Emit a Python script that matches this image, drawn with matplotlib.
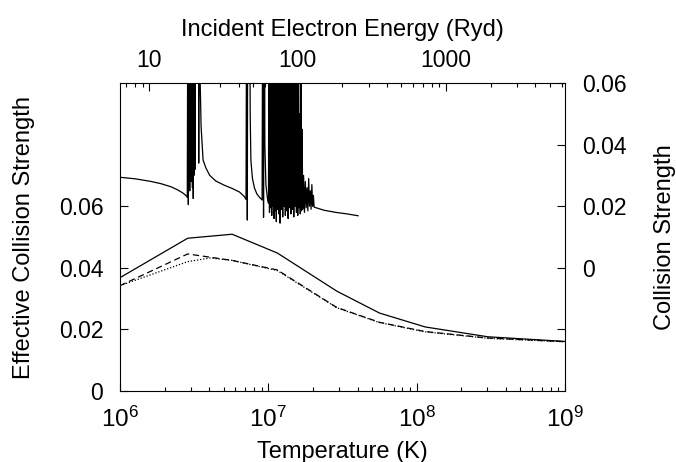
import matplotlib
matplotlib.use("Agg")
from matplotlib import pyplot as plt
from matplotlib.ticker import LogLocator, FixedLocator, FuncFormatter, NullFormatter

plt.rcParams['font.family'] = ['Liberation Sans', 'DejaVu Sans']
plt.rcParams['mathtext.fontset'] = 'custom'
plt.rcParams['mathtext.rm'] = 'Liberation Sans'
plt.rcParams['mathtext.it'] = 'Liberation Sans:italic'

# K per Rydberg, links the two x axes
RYD_K = 157890.0

# effective collision strengths vs temperature (left / bottom axes)
temps = [1e6, 2.86e6, 5.7e6, 1.15e7, 2.9e7, 5.62e7, 1.14e8, 3.02e8, 1e9]
ecs_solid = [0.0368, 0.0496, 0.0509, 0.0448, 0.0324, 0.0253, 0.0208, 0.0176, 0.0161]
ecs_dashed = [0.0342, 0.0445, 0.0424, 0.0393, 0.0271, 0.0223, 0.0193, 0.0172, 0.0160]
temps_dotted = [1e6, 2.86e6, 4.05e6, 5.7e6, 1.15e7, 2.9e7, 5.62e7, 1.14e8, 3.02e8, 1e9]
ecs_dotted = [0.0342, 0.0420, 0.0432, 0.0424, 0.0391, 0.0270, 0.0222, 0.0192, 0.0171, 0.0160]

# collision strength vs incident energy (right / top axes)
energy = [6.33, 8.0, 10.1, 12.0, 14.0, 15.5, 16.8, 17.6, 18.0,
          18.15, 18.3, 18.4, 18.5, 18.6, 18.7, 18.8, 18.9, 19.0, 19.1,
          19.2, 19.3, 19.4, 19.5, 19.6, 19.75, 19.85, 19.95, 20.05, 20.15,
          20.25, 20.35, 20.45, 20.6, 21.3, 21.5, 21.7, 22.0, 22.3, 23.0,
          24.0, 25.5, 28.0, 32.0, 36.0, 40.5, 43.5, 44.8,
          45.2, 45.7, 46.2, 47.2, 47.8, 48.3, 49.5, 51.0, 53.0, 55.0, 57.5,
          58.2, 58.8, 59.4, 60.0, 61.0, 62.5,
          63.5, 64.0, 64.5, 65.0, 65.6, 66.2, 66.8, 67.4, 68.0, 68.6,
          69.2, 69.8, 70.4, 71.0, 71.7, 72.4, 73.1, 73.8, 74.5, 75.2,
          76.0, 76.8, 77.6, 78.4, 79.2, 80.0, 80.8, 81.6, 82.5, 83.4,
          84.3, 85.2, 86.1, 87.0, 88.0, 89.0, 90.0, 91.0, 92.0, 93.0,
          94.0, 95.0, 96.0, 97.0, 98.0, 99.0, 100.0, 101.0, 102.0, 103.0,
          104.0, 105.0, 106.0, 107.0, 108.0, 109.5, 111.0, 112.5, 114.0, 115.5,
          117.0, 118.5, 120.0, 121.5, 123.0, 124.5, 126.0, 127.5, 129.0,
          150.0, 180.0, 215.0, 255.0]
omega = [0.0294, 0.0289, 0.0281, 0.0273, 0.0263, 0.0253, 0.0243, 0.0235, 0.0229,
         0.09, 0.0205, 0.11, 0.030, 0.14, 0.025, 0.12, 0.040, 0.15, 0.028,
         0.10, 0.035, 0.13, 0.026, 0.11, 0.0225, 0.10, 0.030, 0.14, 0.045,
         0.13, 0.032, 0.12, 0.2, 0.2, 0.034, 0.15, 0.06, 0.046, 0.035,
         0.0325, 0.0300, 0.0282, 0.0268, 0.0258, 0.0246, 0.0232, 0.0222,
         0.09, 0.0155, 0.14, 0.12, 0.05, 0.035, 0.029, 0.026, 0.0240, 0.0230, 0.0220,
         0.12, 0.0164, 0.15, 0.040, 0.027, 0.0224,
         0.0210, 0.12, 0.0180, 0.15, 0.0195, 0.10, 0.0170, 0.18, 0.0200, 0.09,
         0.0160, 0.14, 0.0185, 0.11, 0.0150, 0.16, 0.0190, 0.08, 0.0175, 0.13,
         0.0145, 0.17, 0.0190, 0.10, 0.0165, 0.12, 0.0200, 0.15, 0.0170, 0.09,
         0.0185, 0.14, 0.0160, 0.11, 0.0195, 0.16, 0.0175, 0.10, 0.0190, 0.13,
         0.0165, 0.08, 0.0200, 0.12, 0.0180, 0.07, 0.0170, 0.10, 0.0195, 0.05,
         0.0175, 0.09, 0.0185, 0.045, 0.0190, 0.030, 0.0180, 0.028, 0.0195, 0.026,
         0.0185, 0.029, 0.0200, 0.025, 0.0190, 0.027, 0.0200, 0.0235, 0.0197,
         0.0187, 0.0180, 0.0175, 0.0169]

fig = plt.figure(figsize=(6.76, 4.62), dpi=100)
pos = [0.1775, 0.1537, 0.6583, 0.6666]
ax = fig.add_axes(pos)
ax2 = fig.add_axes(pos, frameon=False)

ax.plot(temps, ecs_solid, color='black', lw=0.9)
ax.plot(temps, ecs_dashed, color='black', lw=0.9, ls=(0, (5, 3)))
ax.plot(temps_dotted, ecs_dotted, color='black', lw=0.9, ls=(0, (1, 1.5)))
ax.set_xscale('log')
ax.set_xlim(1e6, 1e9)
ax.set_ylim(0, 0.1)
ax.yaxis.set_major_locator(FixedLocator([0, 0.02, 0.04, 0.06]))
fmt = FuncFormatter(lambda v, p: '0' if abs(v) < 1e-9 else '%.2f' % v)
ax.yaxis.set_major_formatter(fmt)
ax.xaxis.set_major_locator(LogLocator(base=10, numticks=10))
ax.xaxis.set_minor_locator(LogLocator(base=10, subs=range(2, 10), numticks=20))
ax.xaxis.set_minor_formatter(NullFormatter())
ax.tick_params(which='both', direction='in', top=False, right=False)
ax.tick_params(which='major', length=6, width=0.8)
ax.tick_params(which='minor', length=3, width=0.8)
ax.tick_params(axis='y', pad=12, labelsize=16.5)
ax.tick_params(axis='x', pad=11, labelsize=17.5)
ax.set_xlabel('Temperature (K)', fontsize=17, labelpad=7)
ax.set_ylabel('Effective Collision Strength', fontsize=17)
ax.yaxis.set_label_coords(-0.19, 0.5)

ax2.plot(energy, omega, color='black', lw=0.9)
ax2.set_xscale('log')
ax2.set_xlim(1e6 / RYD_K, 1e9 / RYD_K)
ax2.set_ylim(-0.04, 0.06)
ax2.xaxis.set_ticks_position('top')
ax2.xaxis.set_label_position('top')
ax2.yaxis.set_ticks_position('right')
ax2.yaxis.set_label_position('right')
ax2.xaxis.set_major_locator(FixedLocator([10, 100, 1000]))
ax2.xaxis.set_major_formatter(FuncFormatter(lambda v, p: '%d' % round(v)))
ax2.xaxis.set_minor_locator(LogLocator(base=10, subs=range(2, 10), numticks=20))
ax2.xaxis.set_minor_formatter(NullFormatter())
ax2.yaxis.set_major_locator(FixedLocator([-0.02, 0, 0.02, 0.04, 0.06]))
ax2.yaxis.set_major_formatter(FuncFormatter(
    lambda v, p: '' if v < -1e-9 else ('0' if abs(v) < 1e-9 else '%.2f' % v)))
ax2.tick_params(which='both', direction='in')
ax2.tick_params(which='major', length=6, width=0.8)
ax2.tick_params(which='minor', length=3, width=0.8)
ax2.tick_params(axis='y', pad=12, labelsize=16.5)
ax2.tick_params(axis='x', pad=8, labelsize=16.5)
ax2.set_xlabel('Incident Electron Energy (Ryd)', fontsize=17, labelpad=9)
ax2.set_ylabel('Collision Strength', fontsize=17)
ax2.yaxis.set_label_coords(1.2, 0.5)

for s in ax.spines.values():
    s.set_linewidth(0.8)

fig.savefig('out.png', dpi=100)
